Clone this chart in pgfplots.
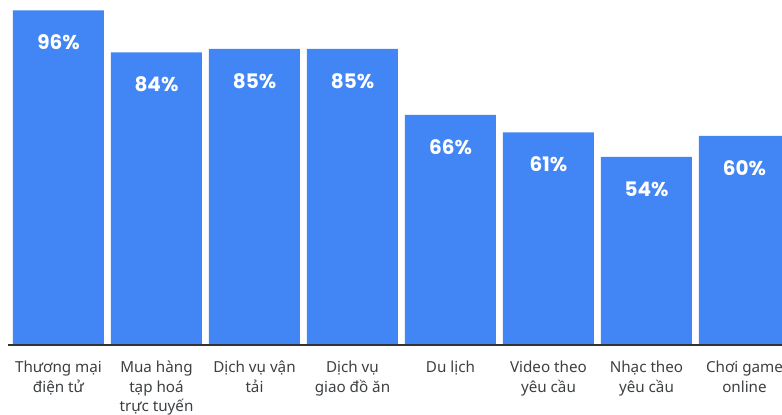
\documentclass[border=0pt]{standalone}
\usepackage{fontspec}
\setmainfont{Noto Sans}
\newfontfamily\numfont{Poppins}
\usepackage{pgfplots}
\pgfplotsset{compat=1.18}
\definecolor{barblue}{HTML}{4285F4}
\definecolor{labelgray}{HTML}{3C4043}
\definecolor{baseline}{HTML}{333333}

\begin{document}
\begin{tikzpicture}
\useasboundingbox (0,0) rectangle (782pt,415pt);
\begin{axis}[
  at={(8pt,70pt)}, anchor=south west,
  scale only axis,
  width=774pt, height=345pt,
  xmin=-0.515, xmax=7.383,
  ymin=0, ymax=99,
  axis x line=bottom,
  axis y line=none,
  x axis line style={-, draw=baseline, line width=1.5pt},
  axis on top,
  xtick=data,
  major tick length=0pt,
  xticklabels={{Thương mại\\điện tử},{Mua hàng\\tạp hoá\\trực tuyến},{Dịch vụ vận\\tải},{Dịch vụ\\giao đồ ăn},{Du lịch},{Video theo\\yêu cầu},{Nhạc theo\\yêu cầu},{Chơi game\\online}},
  xticklabel style={align=center, inner sep=0pt, font=\fontsize{15.2}{19.5}\selectfont, text=labelgray, yshift=-16pt},
  ybar, bar width=91pt,
  point meta=y,
  nodes near coords={\numfont\bfseries\pgfmathprintnumber[assume math mode=true]{\pgfplotspointmeta}\%},
  every node near coord/.style={anchor=center, yshift=-32pt, text=white, font=\fontsize{20}{24}\selectfont},
]
\addplot[fill=barblue, draw=none] coordinates {
  (0,96) (1,84) (2,85) (3,85) (4,66) (5,61) (6,54) (7,60)
};
\end{axis}
\end{tikzpicture}
\end{document}
